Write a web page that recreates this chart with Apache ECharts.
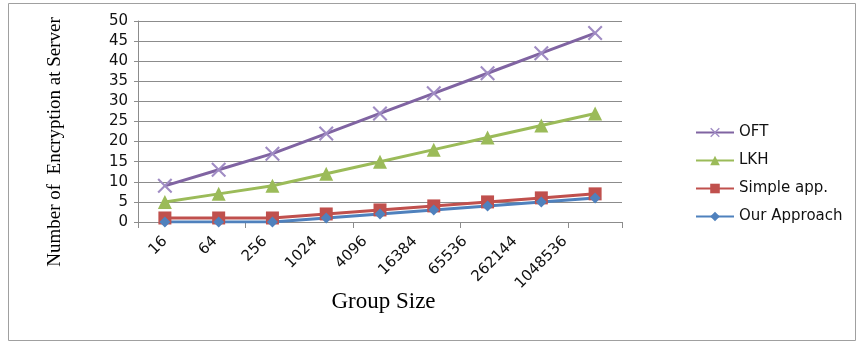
<!DOCTYPE html>
<html>
<head>
<meta charset="utf-8">
<script src="https://cdn.jsdelivr.net/npm/echarts@6/dist/echarts.min.js"></script>
<style>
  html, body { margin: 0; padding: 0; background: #fff; }
  #chart { width: 866px; height: 345px; }
</style>
</head>
<body>
<div id="chart"></div>
<script>
// group sizes on the x axis
const groupSizes = ['16', '64', '256', '1024', '4096', '16384', '65536', '262144', '1048536']
// encryptions at server, per scheme
const oft = [9, 13, 17, 22, 27, 32, 37, 42, 47]
const lkh = [5, 7, 9, 12, 15, 18, 21, 24, 27]
const simpleApp = [1, 1, 1, 2, 3, 4, 5, 6, 7]
const ourApproach = [0, 0, 0, 1, 2, 3, 4, 5, 6]

const crossPath = 'path://M0,1L1,0L5,4L9,0L10,1L6,5L10,9L9,10L5,6L1,10L0,9L4,5Z'

const chart = echarts.init(document.getElementById('chart'))

const lineSeries = (name, data, color, symbol, size, markColor) => ({
  name,
  type: 'line',
  data,
  symbol,
  symbolSize: size,
  showAllSymbol: true,
  lineStyle: { color, width: 3 },
  itemStyle: { color: markColor || color },
  emphasis: { disabled: true },
})

chart.setOption({
  backgroundColor: '#fff',
  animation: false,
  graphic: [
    {
      type: 'rect',
      shape: { x: 8.5, y: 3.5, width: 847, height: 337 },
      style: { fill: 'none', stroke: '#a0a0a0', lineWidth: 1 },
      silent: true,
    },
    // y axis title, placed like the original (not centred on the plot)
    {
      type: 'text',
      x: 55,
      y: 142,
      rotation: Math.PI / 2,
      style: {
        text: 'Number of  Encryption at Server',
        fontFamily: 'Liberation Serif',
        fontSize: 19,
        fill: '#000',
        align: 'center',
        verticalAlign: 'middle',
      },
      silent: true,
    },
  ],
  grid: [
    { left: 138, right: 244, top: 21, bottom: 123, outerBoundsMode: 'none' },
    // the tick labels in the original sit on a slightly tighter pitch than the plot
    { left: 140, right: 276, top: 21, bottom: 123, outerBoundsMode: 'none' },
  ],
  legend: {
    orient: 'vertical',
    left: 690,
    top: 120,
    itemWidth: 38,
    itemHeight: 12,
    itemGap: 13,
    textStyle: { fontFamily: 'DejaVu Sans', fontSize: 15, color: '#111' },
    data: ['OFT', 'LKH', 'Simple app.', 'Our Approach'],
  },
  xAxis: [
    {
      type: 'category',
      data: groupSizes,
      boundaryGap: true,
      axisLine: { lineStyle: { color: '#8c8c8c', width: 1 } },
      axisTick: { show: true, length: 6, lineStyle: { color: '#8c8c8c' } },
      axisLabel: { show: false },
    },
    {
      type: 'category',
      gridIndex: 1,
      data: groupSizes,
      boundaryGap: true,
      name: 'Group Size',
      nameLocation: 'middle',
      nameGap: 68,
      nameMoveOverlap: false,
      nameTextStyle: { fontFamily: 'Liberation Serif', fontSize: 23, color: '#000', padding: [0, 0, 0, 37] },
      axisLine: { show: false },
      axisTick: { show: false },
      axisLabel: {
        rotate: 45,
        interval: 0,
        margin: 17,
        fontFamily: 'DejaVu Sans',
        fontSize: 15,
        color: '#111',
      },
    },
  ],
  yAxis: [
    {
      type: 'value',
      min: 0,
      max: 50,
      interval: 5,
      axisLine: { show: true, lineStyle: { color: '#8c8c8c', width: 1 } },
      axisTick: { show: true, length: 4, lineStyle: { color: '#8c8c8c' } },
      axisLabel: { margin: 10, fontFamily: 'DejaVu Sans', fontSize: 15, color: '#111' },
      splitLine: { lineStyle: { color: '#8c8c8c', width: 1 } },
    },
    {
      type: 'value',
      gridIndex: 1,
      show: false,
    },
  ],
  series: [
    lineSeries('OFT', oft, '#8064a2', crossPath, 15, '#a08cc4'),
    lineSeries('LKH', lkh, '#9bbb59', 'triangle', 14),
    lineSeries('Simple app.', simpleApp, '#c0504d', 'rect', 13),
    lineSeries('Our Approach', ourApproach, '#4f81bd', 'diamond', 11),
  ],
})
</script>
</body>
</html>
